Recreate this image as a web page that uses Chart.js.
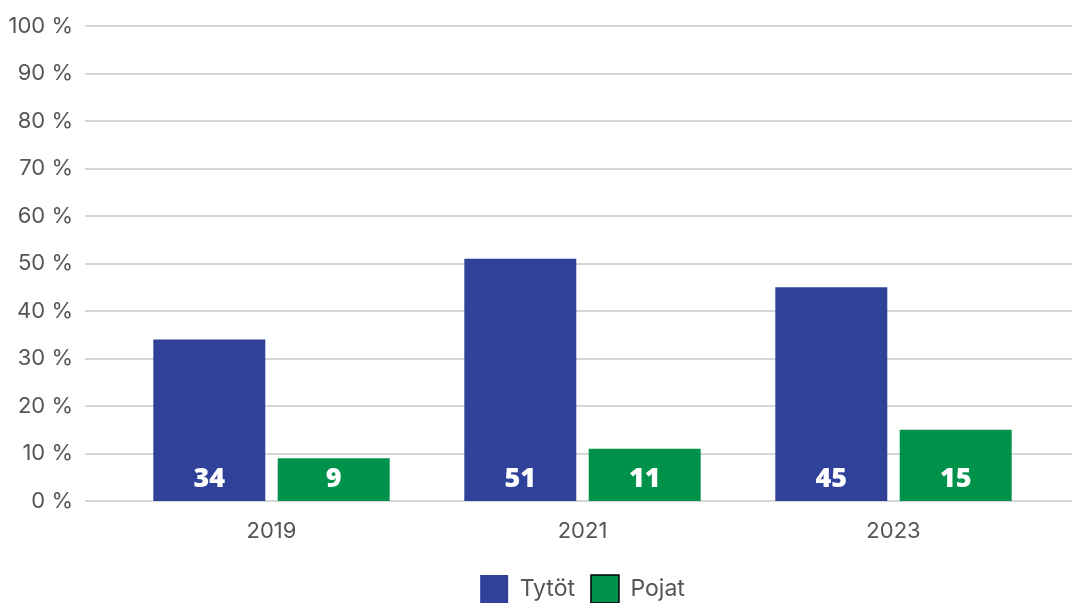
<!DOCTYPE html>
<html>
<head>
<meta charset="utf-8">
<script src="https://cdn.jsdelivr.net/npm/chart.js@4"></script>
<style>
  html, body { margin: 0; padding: 0; background: #fff; }
  #wrap { width: 1072px; height: 603px; }
</style>
</head>
<body>
<div id="wrap"><canvas id="kaavio"></canvas></div>
<script>
const vuodet = ['2019', '2021', '2023'];
const tytot = [34, 51, 45];
const pojat = [9, 11, 15];
const yTicks = [0, 10, 20, 30, 40, 50, 60, 70, 80, 90, 100];

const sininen = '#2F4199';
const vihrea = '#00924A';

// ruudukko piirretään itse, jotta viivat ulottuvat reunaan asti
const ruudukko = {
  id: 'ruudukko',
  beforeDatasetsDraw(chart) {
    const ctx = chart.ctx;
    const y = chart.scales.y;
    ctx.save();
    ctx.strokeStyle = '#d6d6d6';
    ctx.lineWidth = 2;
    yTicks.forEach(v => {
      const py = Math.round(y.getPixelForValue(v));
      ctx.beginPath();
      ctx.moveTo(85, py);
      ctx.lineTo(chart.width, py);
      ctx.stroke();
    });
    ctx.restore();
  }
};

// arvot palkkien alaosaan
const arvot = {
  id: 'arvot',
  afterDatasetsDraw(chart) {
    const ctx = chart.ctx;
    ctx.save();
    ctx.fillStyle = '#fff';
    ctx.font = '800 27px "Open Sans", sans-serif';
    ctx.textAlign = 'center';
    ctx.textBaseline = 'middle';
    chart.data.datasets.forEach((ds, i) => {
      chart.getDatasetMeta(i).data.forEach((bar, j) => {
        ctx.fillText(ds.data[j], bar.x, bar.base - 22);
      });
    });
    ctx.restore();
  }
};

new Chart(document.getElementById('kaavio'), {
  type: 'bar',
  data: {
    labels: vuodet,
    datasets: [
      { label: 'Tytöt', data: tytot, backgroundColor: sininen, borderWidth: 0 },
      { label: 'Pojat', data: pojat, backgroundColor: vihrea, borderWidth: 0 }
    ]
  },
  options: {
    responsive: true,
    maintainAspectRatio: false,
    animation: false,
    layout: { padding: { top: 26, right: 23, left: 0, bottom: -10 } },
    datasets: { bar: { categoryPercentage: 0.8, barPercentage: 0.9 } },
    scales: {
      x: {
        grid: { display: false, drawTicks: false },
        border: { display: false },
        afterFit(scale) { scale.height = 58; },
        ticks: { color: '#555', font: { family: 'Inter', size: 22 }, padding: 17 }
      },
      y: {
        min: 0,
        max: 100,
        afterFit(scale) {
          scale.width = 116;
          scale.paddingTop = 0;
          scale.paddingBottom = 0;
        },
        afterBuildTicks(scale) { scale.ticks = yTicks.map(v => ({ value: v })); },
        grid: { display: false },
        border: { display: false },
        ticks: {
          color: '#555',
          font: { family: 'Inter', size: 22 },
          padding: 35,
          callback: v => v + ' %'
        }
      }
    },
    plugins: {
      legend: {
        position: 'bottom',
        fullSize: false,
        labels: {
          boxWidth: 28,
          boxHeight: 28,
          padding: 16,
          color: '#555',
          font: { family: 'Inter', size: 23 },
          generateLabels(chart) {
            return chart.data.datasets.map((ds, i) => ({
              text: ds.label,
              fillStyle: ds.backgroundColor,
              strokeStyle: i === 1 ? '#000' : ds.backgroundColor,
              lineWidth: i === 1 ? 1.5 : 0,
              fontColor: '#555',
              datasetIndex: i
            }));
          }
        }
      },
      tooltip: { enabled: false }
    }
  },
  plugins: [ruudukko, arvot]
});
</script>
</body>
</html>
